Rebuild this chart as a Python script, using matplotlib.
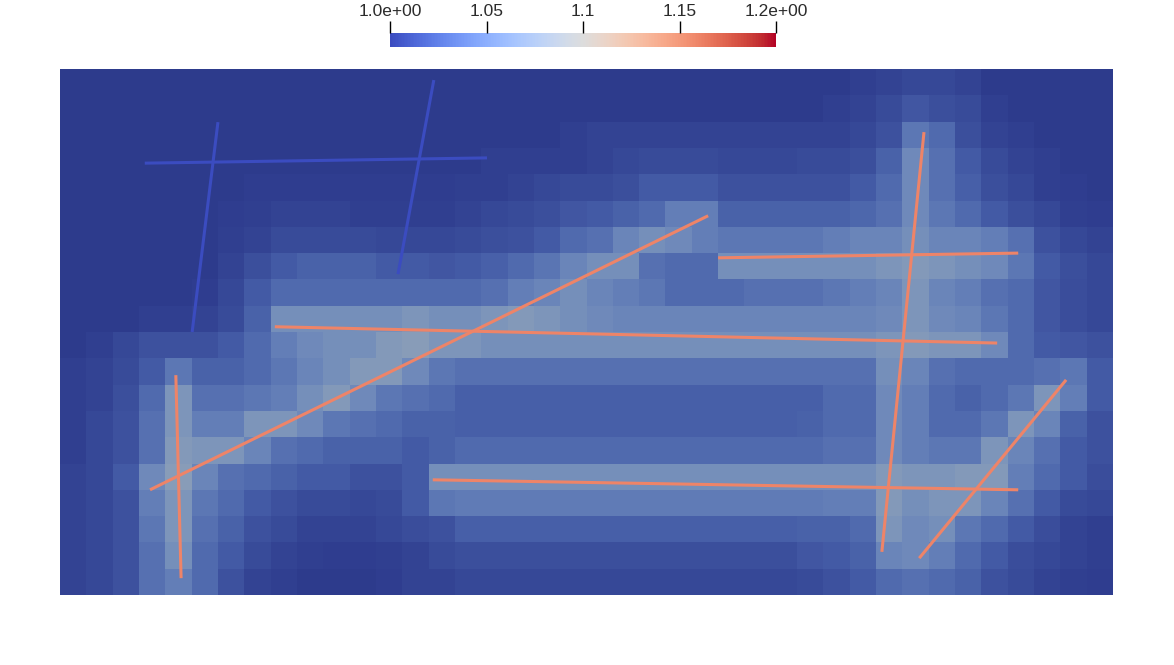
import numpy as np
import matplotlib
matplotlib.use("Agg")
import matplotlib.pyplot as plt
from matplotlib.colors import ListedColormap, Normalize
from matplotlib.collections import LineCollection
from matplotlib.cm import ScalarMappable

# cell values of the 40 x 20 mesh, rows listed top -> bottom
field = [
    [1.0]*30 + [1.003, 1.005, 1.008, 1.008, 1.005] + [1.0]*5,
    [1.0]*29 + [1.003, 1.005, 1.010, 1.017, 1.012, 1.010, 1.003] + [1.0]*4,
    [1.0]*19 + [1.003] + [1.005]*10 + [1.008, 1.014, 1.038, 1.029, 1.012, 1.005, 1.003] + [1.0]*3,
    [1.0]*16 + [1.003]*4 + [1.005, 1.008, 1.010, 1.010, 1.010, 1.008, 1.008, 1.008, 1.010, 1.010,
                            1.012, 1.024, 1.052, 1.033, 1.019, 1.010, 1.005, 1.003, 1.0, 1.0],
    [1.0]*7 + [1.002]*8 + [1.003, 1.003, 1.005, 1.008, 1.010, 1.010, 1.012, 1.019, 1.019, 1.019,
                           1.014, 1.014, 1.014, 1.014, 1.014, 1.019, 1.029, 1.052, 1.033, 1.022,
                           1.012, 1.008, 1.003, 1.002, 1.0],
    [1.0]*6 + [1.002, 1.003, 1.005, 1.005, 1.005, 1.003, 1.003, 1.003, 1.003, 1.005, 1.008, 1.010,
               1.012, 1.017, 1.019, 1.024, 1.029, 1.043, 1.043, 1.024, 1.024, 1.024, 1.024, 1.024,
               1.027, 1.033, 1.052, 1.038, 1.029, 1.019, 1.012, 1.008, 1.003, 1.002],
    [1.0]*6 + [1.003, 1.005, 1.010, 1.010, 1.010, 1.010, 1.008, 1.008, 1.008, 1.010, 1.012, 1.014,
               1.019, 1.029, 1.033, 1.048, 1.057, 1.052, 1.043, 1.038, 1.038, 1.038, 1.038, 1.043,
               1.048, 1.048, 1.057, 1.048, 1.048, 1.043, 1.033, 1.014, 1.008, 1.005],
    [1.0]*6 + [1.005, 1.012, 1.019, 1.024, 1.024, 1.024, 1.019, 1.019, 1.017, 1.019, 1.023, 1.029,
               1.036, 1.048, 1.057, 1.057, 1.033, 1.029, 1.029] + [1.057]*6
            + [1.062, 1.067, 1.062, 1.057, 1.052, 1.038, 1.019, 1.012, 1.008],
    [1.0]*5 + [1.002, 1.008, 1.019] + [1.029]*8
            + [1.033, 1.043, 1.048, 1.057, 1.048, 1.043, 1.038, 1.029, 1.029, 1.029, 1.033, 1.033,
               1.033, 1.038, 1.043, 1.048, 1.062, 1.048, 1.043, 1.033, 1.029, 1.017, 1.011, 1.008],
    [1.0]*3 + [1.003, 1.003, 1.005, 1.010, 1.024] + [1.057]*5
            + [1.062, 1.057, 1.057, 1.062, 1.067, 1.062, 1.057, 1.052] + [1.048]*10
            + [1.052, 1.062, 1.052, 1.048, 1.038, 1.029, 1.017, 1.011, 1.008],
    [1.0, 1.003, 1.008, 1.014, 1.014, 1.014, 1.019, 1.029, 1.043, 1.052, 1.057, 1.057, 1.067,
     1.071, 1.062, 1.062] + [1.057]*15
            + [1.062, 1.067, 1.062, 1.062, 1.052, 1.029, 1.019, 1.017, 1.014],
    [1.003, 1.005, 1.010, 1.019, 1.038, 1.024, 1.024, 1.029, 1.038, 1.048, 1.057, 1.067, 1.067,
     1.052, 1.038] + [1.033]*16
            + [1.057, 1.048, 1.033, 1.029, 1.029, 1.029, 1.033, 1.038, 1.019],
    [1.003, 1.005, 1.012, 1.029, 1.062, 1.033, 1.033, 1.038, 1.043, 1.057, 1.067, 1.052, 1.038,
     1.033, 1.029] + [1.022]*14
            + [1.029, 1.029, 1.052, 1.043, 1.029, 1.024, 1.029, 1.038, 1.062, 1.043, 1.019],
    [1.003, 1.008, 1.014, 1.033, 1.062, 1.043, 1.043, 1.062, 1.062, 1.052, 1.038, 1.033, 1.029,
     1.024, 1.024] + [1.022]*13
            + [1.024, 1.029, 1.029, 1.052, 1.043, 1.029, 1.029, 1.038, 1.062, 1.048, 1.024, 1.014],
    [1.003, 1.008, 1.014, 1.033, 1.067, 1.062, 1.062, 1.048, 1.033, 1.029, 1.024, 1.024, 1.024,
     1.019, 1.024] + [1.029]*14
            + [1.033, 1.033, 1.052, 1.043, 1.038, 1.038, 1.062, 1.048, 1.033, 1.019, 1.014],
    [1.005, 1.008, 1.019, 1.052, 1.071, 1.048, 1.033, 1.029, 1.024, 1.019, 1.019, 1.014, 1.014,
     1.019] + [1.057]*17
            + [1.067, 1.062, 1.062, 1.067, 1.067, 1.043, 1.029, 1.019, 1.011],
    [1.005, 1.008, 1.014, 1.043, 1.062, 1.038, 1.029, 1.019, 1.014, 1.010, 1.010, 1.008, 1.010,
     1.019, 1.038] + [1.041]*14
            + [1.043, 1.043, 1.067, 1.057, 1.062, 1.062, 1.048, 1.033, 1.019, 1.010, 1.008],
    [1.005, 1.008, 1.014, 1.038, 1.062, 1.033, 1.024, 1.014, 1.010, 1.005, 1.005, 1.005, 1.008,
     1.011, 1.014] + [1.022]*13
            + [1.024, 1.024, 1.029, 1.062, 1.052, 1.057, 1.038, 1.029, 1.019, 1.011, 1.005, 1.003],
    [1.005, 1.008, 1.014, 1.033, 1.057, 1.029, 1.019, 1.010, 1.005, 1.003, 1.002, 1.002, 1.003,
     1.005, 1.010] + [1.012]*13
            + [1.017, 1.019, 1.024, 1.048, 1.052, 1.043, 1.029, 1.019, 1.011, 1.008, 1.005, 1.003],
    [1.005, 1.008, 1.014, 1.033, 1.043, 1.029, 1.014, 1.005, 1.003, 1.0, 1.0, 1.0, 1.002,
     1.005, 1.005] + [1.008]*13
            + [1.010, 1.014, 1.019, 1.029, 1.033, 1.029, 1.024, 1.014, 1.010, 1.005, 1.003, 1.002],
]

# fracture segments (domain 2 x 1) and their values
frac_x0 = [0.171, 0.408, 1.250, 1.641, 0.708, 1.632, 0.220, 0.161, 0.300, 0.710]
frac_y0 = [0.200, 0.510, 0.641, 0.880, 0.219, 0.070, 0.418, 0.821, 0.899, 0.979]
frac_x1 = [1.231, 1.780, 1.820, 1.561, 1.820, 1.911, 0.230, 0.811, 0.251, 0.642]
frac_y1 = [0.721, 0.479, 0.650, 0.082, 0.200, 0.409, 0.032, 0.831, 0.500, 0.610]
frac_val = [1.16, 1.16, 1.16, 1.16, 1.16, 1.16, 1.16, 1.0, 1.0, 1.0]

cbar_ticks = [1.0, 1.05, 1.1, 1.15, 1.2]
cbar_labels = ["1.0e+00", "1.05", "1.1", "1.15", "1.2e+00"]

vmin, vmax = 1.0, 1.2
norm = Normalize(vmin, vmax)
base = plt.get_cmap("coolwarm")
# the surface is rendered lit, so its colours come out darker than the bar
shade = base(np.linspace(0, 1, 256))
shade[:, 0] *= 0.77
shade[:, 1] *= 0.77
shade[:, 2] *= 0.73
surf_cmap = ListedColormap(shade)

Z = np.array(field)
nrow, ncol = Z.shape
xe = np.linspace(0, 2, ncol + 1)
ye = np.linspace(1, 0, nrow + 1)

fig = plt.figure(figsize=(11.74, 6.65), dpi=100)
ax = fig.add_axes([60/1174, 70/665, 1053/1174, 526/665])
ax.pcolormesh(xe, ye, Z, cmap=surf_cmap, norm=norm, shading="flat")

segs = [[(a, b), (c, d)] for a, b, c, d in zip(frac_x0, frac_y0, frac_x1, frac_y1)]
lc = LineCollection(segs, cmap=base, norm=norm, linewidths=2.2, capstyle="butt")
lc.set_array(np.array(frac_val))
ax.add_collection(lc)
ax.set_xlim(0, 2)
ax.set_ylim(0, 1)
ax.axis("off")

cax = fig.add_axes([390/1174, (665-47)/665, 386/1174, 14/665])
cb = fig.colorbar(ScalarMappable(norm=norm, cmap=base), cax=cax, orientation="horizontal")
cb.outline.set_visible(False)
cax.xaxis.set_ticks_position("top")
cax.set_xticks(cbar_ticks)
cax.set_xticklabels(cbar_labels)
cax.tick_params(axis="x", direction="out", length=9, width=1, pad=1,
                labelsize=12.5, labelcolor="#2b2b2b")
for lab in cax.get_xticklabels():
    lab.set_family("Liberation Sans")

fig.savefig("out.png", dpi=100)
